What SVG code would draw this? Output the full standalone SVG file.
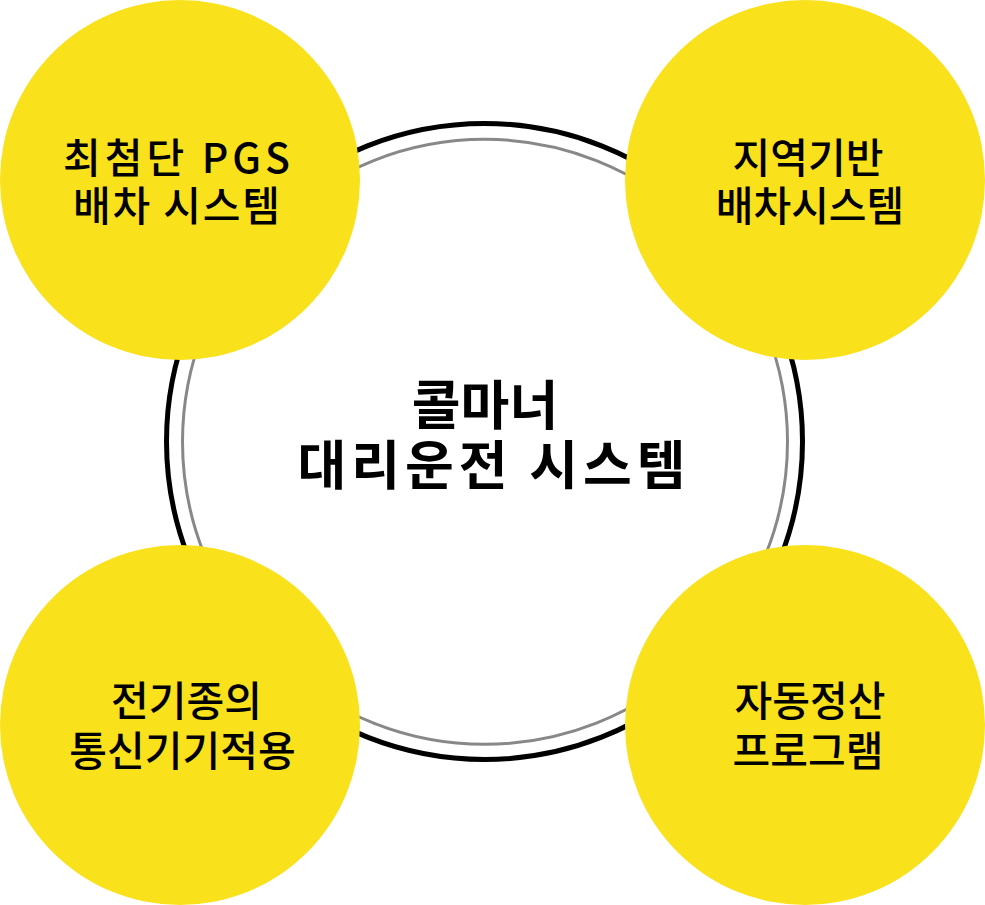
<svg xmlns="http://www.w3.org/2000/svg" width="985" height="905" viewBox="0 0 985 905">
<style>
.bg{fill:#ffffff}
.ring-outer{fill:none;stroke:#000000;stroke-width:5}
.ring-inner{fill:none;stroke:#888888;stroke-width:3}
.node{fill:#F9E11B}
.lbl{font-family:"Noto Sans CJK KR","Noto Sans",sans-serif;font-size:41px;font-weight:500;fill:#000000;text-anchor:middle}
.title{font-family:"Noto Sans CJK KR","Noto Sans",sans-serif;font-size:53px;font-weight:700;fill:#000000;text-anchor:middle}
</style>
<rect class="bg" x="0" y="0" width="985" height="905"/>
<g id="connectors">
<circle class="ring-outer" cx="484.5" cy="441.5" r="318"/>
<circle class="ring-inner" cx="485" cy="441.8" r="302.5"/>
</g>
<g id="center">
<text class="title" x="485" y="425">콜마너</text>
<text class="title" x="491.5" y="485" textLength="388" lengthAdjust="spacing">대리운전 시스템</text>
</g>
<g id="node-pgs">
<circle class="node" cx="180" cy="180" r="180"/>
<text class="lbl" x="176.5" y="173" textLength="227" lengthAdjust="spacing">최첨단 PGS</text>
<text class="lbl" x="176.5" y="221" textLength="207" lengthAdjust="spacing">배차 시스템</text>
</g>
<g id="node-local">
<circle class="node" cx="805" cy="180" r="180"/>
<text class="lbl" x="808" y="173">지역기반</text>
<text class="lbl" x="810" y="221">배차시스템</text>
</g>
<g id="node-device">
<circle class="node" cx="180" cy="725" r="180"/>
<text class="lbl" x="186.5" y="716">전기종의</text>
<text class="lbl" x="182.5" y="766">통신기기적용</text>
</g>
<g id="node-settle">
<circle class="node" cx="805" cy="725" r="180"/>
<text class="lbl" x="810" y="716">자동정산</text>
<text class="lbl" x="808" y="766">프로그램</text>
</g>
</svg>
